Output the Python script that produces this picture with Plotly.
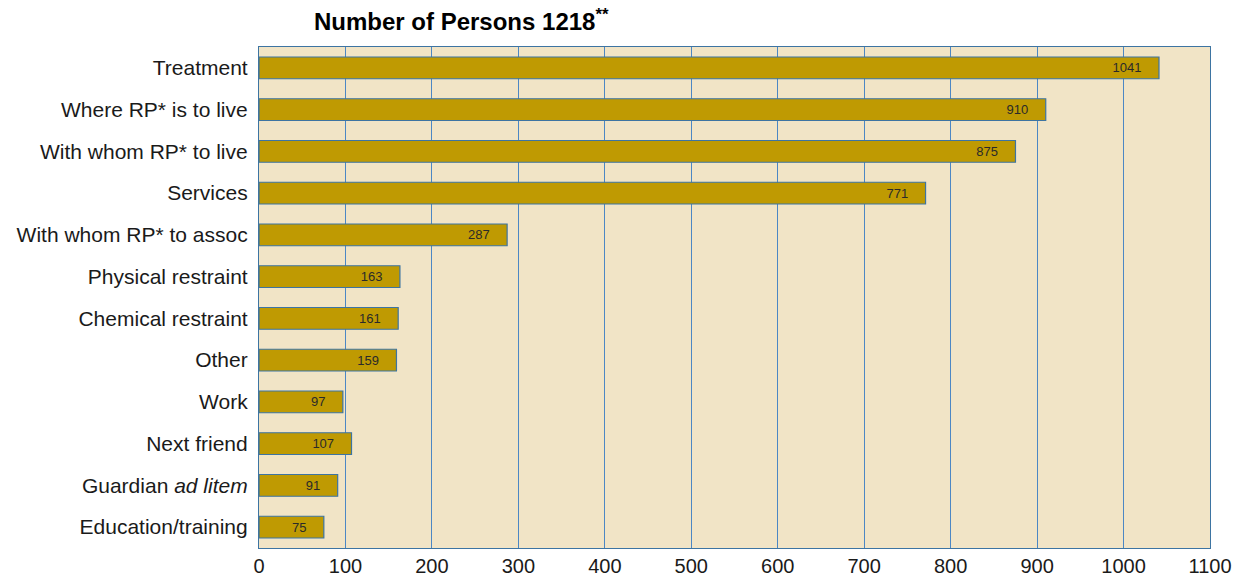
import plotly.graph_objects as go

# categories top to bottom, and number of persons
categories = [
    "Treatment",
    "Where RP* is to live",
    "With whom RP* to live",
    "Services",
    "With whom RP* to assoc",
    "Physical restraint",
    "Chemical restraint",
    "Other",
    "Work",
    "Next friend",
    "Guardian <i>ad litem</i>",
    "Education/training",
]
persons = [1041, 910, 875, 771, 287, 163, 161, 159, 97, 107, 91, 75]
x_ticks = list(range(0, 1101, 100))

bar_gold = "#BF9A02"
edge_blue = "#3D74A2"
grid_blue = "#4C87C4"
panel = "#F1E4C6"

fig = go.Figure(go.Bar(
    x=persons,
    y=categories,
    orientation="h",
    width=0.52,
    marker=dict(color=bar_gold, line=dict(color=edge_blue, width=1.2)),
    text=[str(v) + "&nbsp;&nbsp;&nbsp;&nbsp;" for v in persons],
    textposition="inside",
    insidetextanchor="end",
    textfont=dict(family="Liberation Sans", size=13, color="#2a2a2a"),
    cliponaxis=False,
))

fig.update_layout(
    template="none",
    width=1243, height=579,
    margin=dict(l=259, r=33, t=47, b=31),
    paper_bgcolor="white",
    plot_bgcolor=panel,
    showlegend=False,
    title=dict(
        text="<b>Number of Persons 1218<sup>**</sup></b>",
        x=314 / 1243, xanchor="left", xref="container",
        y=1 - 22 / 579, yanchor="middle", yref="container",
        font=dict(family="Liberation Sans", size=24, color="black"),
    ),
    xaxis=dict(
        range=[0, 1100],
        tickvals=x_ticks,
        ticks="",
        showgrid=True, gridcolor=grid_blue, gridwidth=1,
        zeroline=False,
        showline=True, linecolor=edge_blue, linewidth=1.2, mirror=True,
        tickfont=dict(family="Liberation Sans", size=20, color="#1a1a1a"),
        automargin=False,
    ),
    yaxis=dict(
        autorange="reversed",
        ticks="", ticklabelstandoff=6,
        showgrid=False,
        showline=True, linecolor=edge_blue, linewidth=1.2, mirror=True,
        tickfont=dict(family="Liberation Sans", size=21, color="#1a1a1a"),
        automargin=False,
    ),
)

fig.write_html("out.html", config={"displayModeBar": False},
               post_script="document.body.style.margin='0px';")
